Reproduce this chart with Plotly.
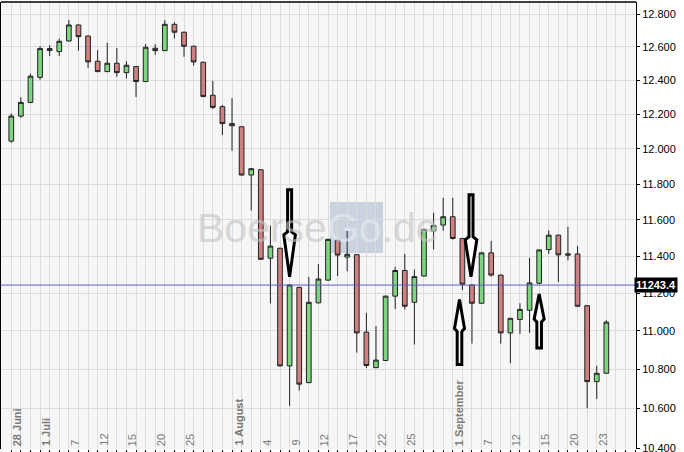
import math
import plotly.graph_objects as go

# ---------------- data ----------------
dates = ["28.06.", "29.06.", "30.06.", "01.07.", "05.07.", "06.07.", "07.07.", "08.07.",
         "11.07.", "12.07.", "13.07.", "14.07.", "15.07.", "18.07.", "19.07.", "20.07.",
         "21.07.", "22.07.", "25.07.", "26.07.", "27.07.", "28.07.", "29.07.", "01.08.",
         "02.08.", "03.08.", "04.08.", "05.08.", "08.08.", "09.08.", "10.08.", "11.08.",
         "12.08.", "15.08.", "16.08.", "17.08.", "18.08.", "19.08.", "22.08.", "23.08.",
         "24.08.", "25.08.", "26.08.", "29.08.", "30.08.", "31.08.", "01.09.", "02.09.",
         "06.09.", "07.09.", "08.09.", "09.09.", "12.09.", "13.09.", "14.09.", "15.09.",
         "16.09.", "19.09.", "20.09.", "21.09.", "22.09.", "23.09.", "26.09."]

open_ = [12045, 12190, 12270, 12418, 12590, 12572, 12636, 12733, 12666, 12514, 12452, 12502,
         12446, 12482, 12393, 12592, 12578, 12737, 12689, 12604, 12508, 12312, 12245, 12146,
         12128, 11851, 11881, 11389, 11443, 10817, 11231, 10731, 11148, 11270, 11487, 11395,
         11408, 10993, 10808, 10845, 11184, 11322, 11151, 11292, 11538, 11571, 11617, 11497,
         11244, 11146, 11418, 11297, 10989, 11060, 11109, 11253, 11436, 11515, 11405, 11412,
         11133, 10736, 10779]
high = [12205, 12300, 12440, 12605, 12610, 12650, 12763, 12736, 12668, 12581, 12625, 12593,
        12514, 12485, 12617, 12617, 12763, 12749, 12692, 12607, 12510, 12397, 12255, 12295,
        12131, 11890, 11884, 11567, 11446, 11246, 11233, 11287, 11357, 11495, 11490, 11538,
        11410, 11095, 11025, 11186, 11342, 11412, 11327, 11550, 11639, 11723, 11723, 11500,
        11246, 11420, 11483, 11300, 11068, 11146, 11391, 11436, 11541, 11518, 11561, 11455,
        11135, 10818, 11056]
low = [12035, 12180, 12265, 12404, 12545, 12545, 12632, 12578, 12474, 12450, 12450, 12421,
       12412, 12302, 12390, 12553, 12575, 12651, 12541, 12488, 12300, 12232, 12081, 11989,
       11848, 11652, 11380, 11146, 10814, 10612, 10690, 10728, 11146, 11268, 11292, 11318,
       10886, 10806, 10805, 10842, 11115, 11113, 10928, 11290, 11437, 11540, 11490, 11217,
       10933, 11144, 11289, 10933, 10831, 10984, 10989, 11250, 11412, 11260, 11377, 11128,
       10600, 10647, 10777]
close = [12190, 12270, 12425, 12590, 12578, 12634, 12733, 12662, 12510, 12452, 12502, 12446,
         12490, 12393, 12598, 12578, 12737, 12689, 12604, 12510, 12305, 12241, 12146, 12134,
         11851, 11887, 11383, 11455, 10817, 11244, 10723, 11151, 11276, 11492, 11406, 11410,
         10989, 10819, 10847, 11184, 11322, 11130, 11289, 11547, 11569, 11617, 11497, 11248,
         11146, 11418, 11297, 10989, 11066, 11113, 11255, 11434, 11515, 11407, 11412, 11130,
         10736, 10779, 11046]

# date labels on the x axis: (trading-day index, text)
x_labels = {0: "<b>28 Juni</b>", 3: "<b>1 Juli</b>", 6: "7", 9: "12", 12: "15", 15: "20",
            18: "25", 23: "<b>1 August</b>", 26: "4", 29: "9", 32: "12", 35: "17", 38: "22",
            41: "25", 46: "<b>1 September</b>", 49: "7", 52: "12", 55: "15", 58: "20", 61: "23"}
n_grid = 66  # vertical grid positions (one per trading day, continuing past the data)

y_ticks = [10400, 10600, 10800, 11000, 11200, 11400, 11600, 11800, 12000, 12200, 12400, 12600, 12800]
y_min, y_max = 10395.4, 12873.7

current_level = 11243.4

# marker arrows: (trading-day index, price at tip, direction, head length px, shaft length px)
arrows = [(29.0, 11288, "down", 45, 42),
          (47.9, 11288, "down", 40, 42),
          (46.7, 11166, "up", 32, 33),
          (55.0, 11195, "up", 28, 26)]

# ---------------- figure ----------------
x = list(range(len(dates)))

fig = go.Figure()
fig.add_trace(go.Candlestick(
    x=x, open=open_, high=high, low=low, close=close,
    increasing=dict(fillcolor="#7fd47f", line=dict(color="#222222", width=1)),
    decreasing=dict(fillcolor="#cf8080", line=dict(color="#222222", width=1)),
    whiskerwidth=0, hoverinfo="skip", showlegend=False,
))


def arrow_path(direction, head, shaft, hw, sw):
    s = 1 if direction == "down" else -1
    pts = [(0, 0), (-hw, s * (head - 3)), (-sw, s * head), (-sw, s * (head + shaft)),
           (sw, s * (head + shaft)), (sw, s * head), (hw, s * (head - 3))]
    return "M " + " L ".join(f"{px},{py}" for px, py in pts) + " Z"


shapes = []
# "Go" box of the watermark
shapes.append(dict(type="rect", xref="paper", yref="paper", x0=0.518, x1=0.6016, y0=0.4385, y1=0.5526,
                   fillcolor="#c9d3df", line=dict(width=0), layer="below"))
# horizontal level line
shapes.append(dict(type="line", xref="paper", yref="y", x0=0, x1=1, y0=current_level, y1=current_level,
                   line=dict(color="#5c5cd0", width=1), layer="above"))
# top frame line
shapes.append(dict(type="line", xref="paper", yref="paper", x0=0, x1=1, y0=1, y1=1,
                   line=dict(color="black", width=1.5), layer="above"))
for ax_i, tip, direction, head, shaft in arrows:
    hw = 5.8 if direction == "down" else 5.0
    sw = 2.0 if direction == "down" else 2.3
    shapes.append(dict(type="path", xref="x", yref="y", xsizemode="pixel", ysizemode="pixel",
                       xanchor=ax_i, yanchor=tip, path=arrow_path(direction, head, shaft, hw, sw),
                       fillcolor="white", line=dict(color="black", width=3), layer="above"))

annotations = [
    dict(xref="paper", yref="paper", x=0.4992, y=0.494, xanchor="center", yanchor="middle",
         text='Boerse<span style="color:#e8ecf0">Go</span>.de', showarrow=False, opacity=0.6,
         font=dict(family="Liberation Sans, Arial, sans-serif", size=41, color="#c4c4c4")),
    dict(xref="paper", yref="y", x=1, y=math.log10(current_level), xanchor="left", yanchor="middle",
         xshift=-2, text="<b>11243.4</b>", showarrow=False, bgcolor="black", borderpad=1,
         font=dict(family="Liberation Sans, Arial, sans-serif", size=11, color="white")),
]
# date labels, drawn inside the plot area just above the time axis
for idx, label in x_labels.items():
    annotations.append(dict(xref="x", yref="paper", x=idx, y=0, xanchor="center", yanchor="bottom",
                            xshift=6, yshift=1, textangle=-90, text=label, showarrow=False,
                            font=dict(family="Liberation Sans, Arial, sans-serif", size=11,
                                      color="#7a7a7a")))

fig.update_layout(
    width=684, height=452,
    margin=dict(l=1, r=48, t=2, b=3, pad=0),
    paper_bgcolor="white", plot_bgcolor="#f6f6f6",
    showlegend=False,
    font=dict(family="Liberation Sans, Arial, sans-serif", size=11, color="black"),
    xaxis=dict(
        type="linear", range=[-1.07, 65.09], automargin=False,
        tickmode="array", tickvals=list(range(n_grid)), showticklabels=False,
        ticks="outside", ticklen=3, tickcolor="black", tickwidth=1,
        showgrid=True, gridcolor="#dcdcdc", gridwidth=1,
        zeroline=False, showline=False, rangeslider=dict(visible=False),
    ),
    yaxis=dict(
        type="log", side="right", range=[math.log10(y_min), math.log10(y_max)], automargin=False,
        tickmode="array", tickvals=y_ticks,
        ticktext=[f"{v:,}".replace(",", ".") for v in y_ticks],
        ticklabeloverflow="allow",
        ticks="outside", ticklen=3, tickcolor="black",
        showline=True, linecolor="black", linewidth=1, mirror=True,
        showgrid=True, gridcolor="#dcdcdc", gridwidth=1, zeroline=False,
        tickfont=dict(size=11, color="black"),
    ),
    shapes=shapes, annotations=annotations,
)

fig.write_html("out.html", config={"displayModeBar": False},
               post_script="document.body.style.margin='0';")
